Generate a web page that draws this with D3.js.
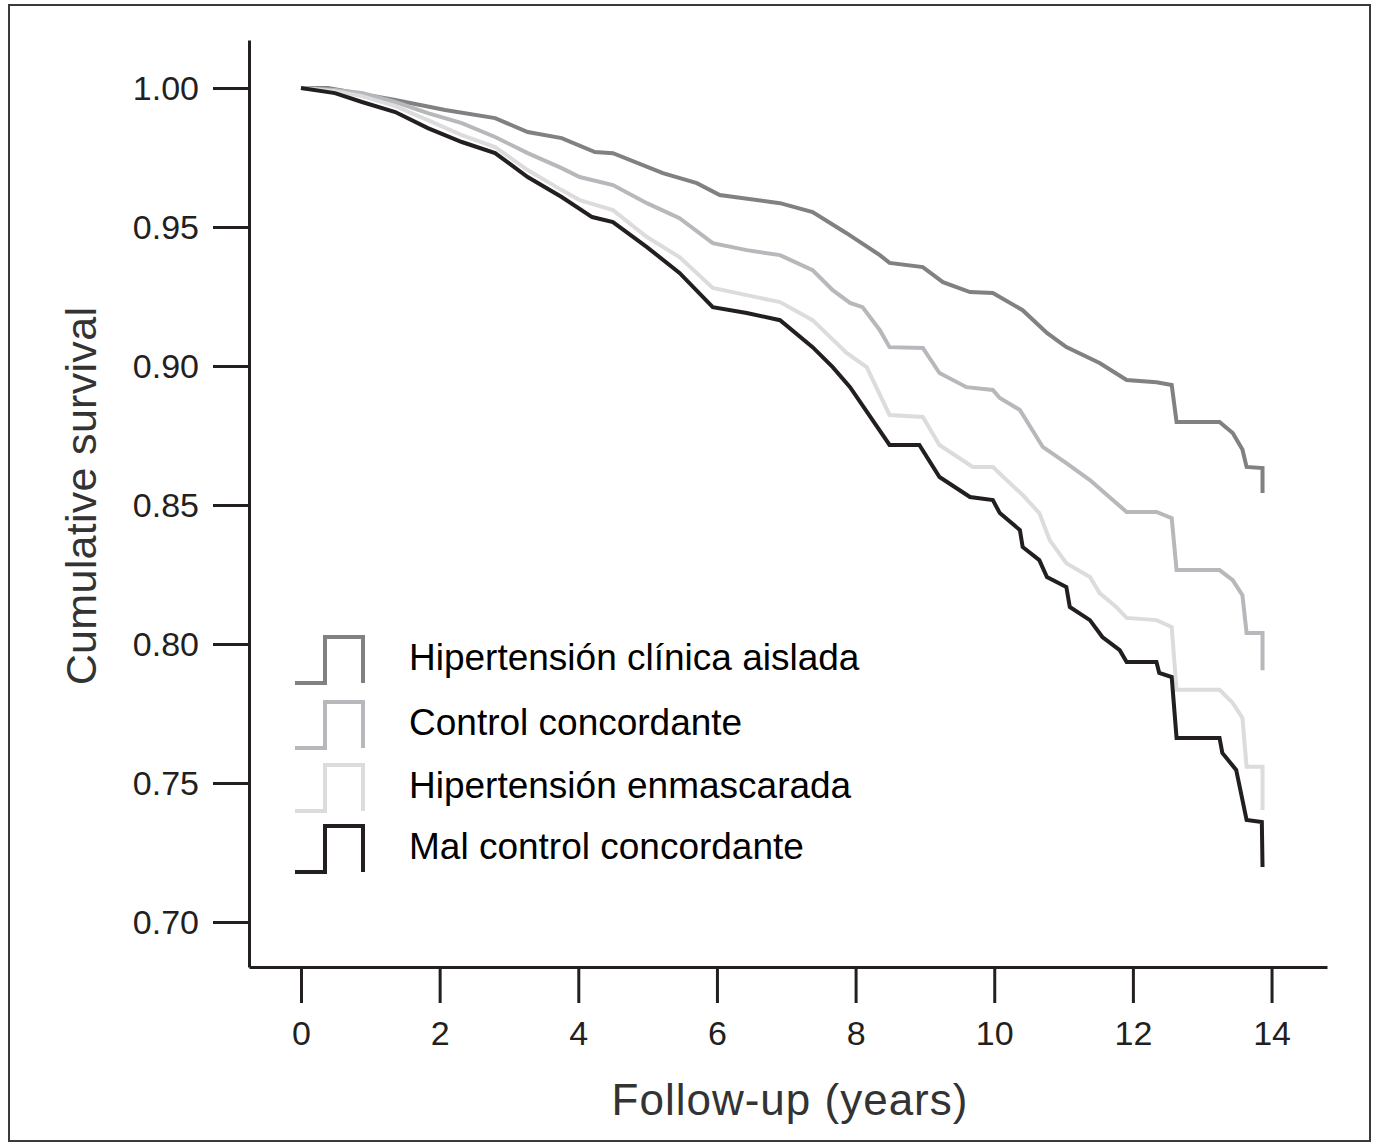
<!DOCTYPE html>
<html>
<head>
<meta charset="utf-8">
<script src="https://cdn.jsdelivr.net/npm/d3@7"></script>
<style>
  html, body { margin: 0; padding: 0; background: #ffffff; }
  svg { display: block; }
  text { font-family: "Liberation Sans", Arial, Helvetica, sans-serif; }
</style>
</head>
<body>
<svg id="chart" width="1377" height="1146"></svg>
<script>
// Kaplan–Meier survival by blood-pressure control category: [years, cumulative survival]
const seriesNames = [
  "Hipertensión clínica aislada",
  "Control concordante",
  "Hipertensión enmascarada",
  "Mal control concordante"
];

const aislada = [
  [0,1.000],[0.39,1.000],[1.36,0.9957],[2.08,0.9921],[2.80,0.9892],[3.27,0.9842],[3.76,0.9820],
  [4.24,0.9770],[4.50,0.9766],[5.22,0.9694],[5.71,0.9658],[6.04,0.9615],[6.91,0.9586],[7.38,0.9554],
  [7.87,0.9478],[8.35,0.9399],[8.49,0.9371],[8.97,0.9356],[9.26,0.9302],[9.65,0.9266],[9.98,0.9263],
  [10.41,0.9201],[10.76,0.9119],[11.04,0.9068],[11.52,0.9011],[11.91,0.8950],[12.34,0.8942],
  [12.56,0.8932],[12.63,0.8799],[13.25,0.8799],[13.44,0.8759],[13.58,0.8700],[13.64,0.8637],
  [13.87,0.8633],[13.87,0.8543]
];

const concordante = [
  [0,1.000],[0.49,0.9993],[0.88,0.9982],[1.36,0.9950],[1.83,0.9910],[2.32,0.9874],[2.80,0.9824],
  [3.27,0.9766],[3.76,0.9712],[4.02,0.9680],[4.50,0.9651],[4.99,0.9586],[5.46,0.9532],[5.94,0.9442],
  [6.43,0.9417],[6.91,0.9399],[7.38,0.9345],[7.67,0.9273],[7.92,0.9227],[8.10,0.9212],[8.35,0.9129],
  [8.49,0.9068],[8.97,0.9065],[9.21,0.8975],[9.60,0.8924],[9.98,0.8914],[10.08,0.8885],[10.37,0.8842],
  [10.70,0.8709],[11.04,0.8651],[11.38,0.8590],[11.71,0.8518],[11.91,0.8475],[12.34,0.8475],
  [12.56,0.8453],[12.63,0.8266],[13.25,0.8266],[13.44,0.8230],[13.58,0.8176],[13.64,0.8040],
  [13.87,0.8040],[13.87,0.7906]
];

const enmascarada = [
  [0,1.000],[0.49,0.9989],[0.88,0.9971],[1.36,0.9935],[1.83,0.9885],[2.32,0.9831],[2.80,0.9788],
  [3.27,0.9705],[3.76,0.9633],[4.02,0.9597],[4.50,0.9561],[4.99,0.9464],[5.46,0.9392],[5.94,0.9281],
  [6.43,0.9255],[6.91,0.9230],[7.38,0.9165],[7.87,0.9047],[8.16,0.8996],[8.49,0.8824],[8.97,0.8817],
  [9.21,0.8716],[9.69,0.8637],[9.98,0.8637],[10.41,0.8536],[10.65,0.8471],[10.80,0.8374],[11.04,0.8291],
  [11.38,0.8241],[11.52,0.8183],[11.76,0.8133],[11.91,0.8094],[12.34,0.8086],[12.56,0.8061],
  [12.63,0.7835],[13.25,0.7835],[13.44,0.7788],[13.58,0.7734],[13.64,0.7558],[13.87,0.7558],
  [13.87,0.7403]
];

const malControl = [
  [0,1.000],[0.49,0.9982],[0.88,0.9950],[1.36,0.9914],[1.83,0.9856],[2.32,0.9806],[2.80,0.9766],
  [3.27,0.9680],[3.76,0.9608],[4.20,0.9536],[4.50,0.9518],[4.99,0.9428],[5.46,0.9335],[5.94,0.9212],
  [6.43,0.9191],[6.91,0.9165],[7.38,0.9068],[7.67,0.8996],[7.92,0.8924],[8.49,0.8716],[8.92,0.8716],
  [9.21,0.8601],[9.65,0.8529],[9.98,0.8518],[10.08,0.8471],[10.37,0.8410],[10.41,0.8349],[10.65,0.8302],
  [10.76,0.8241],[11.04,0.8205],[11.09,0.8133],[11.38,0.8086],[11.56,0.8025],[11.81,0.7978],
  [11.91,0.7935],[12.34,0.7935],[12.38,0.7896],[12.56,0.7881],[12.63,0.7662],[13.25,0.7662],
  [13.29,0.7608],[13.49,0.7547],[13.64,0.7367],[13.86,0.7360],[13.87,0.7198]
];

const xTicks = [0, 2, 4, 6, 8, 10, 12, 14];
const yTicks = [0.70, 0.75, 0.80, 0.85, 0.90, 0.95, 1.00];

// Styling
const seriesData = [aislada, concordante, enmascarada, malControl];
const seriesColors = ["#808183", "#b7b8bb", "#dcdcde", "#231f20"];
const inkColor = "#231f20";

const svg = d3.select("#chart");

// Outer frame
svg.append("rect")
  .attr("x", 9).attr("y", 5).attr("width", 1361).attr("height", 1136)
  .attr("fill", "none").attr("stroke", "#3a3a3a").attr("stroke-width", 2);

const x = d3.scaleLinear().domain([-0.75, 14.8]).range([249, 1327]);
const y = d3.scaleLinear().domain([0.6838, 1.0173]).range([967, 40]);

// Axes
const yAxis = d3.axisLeft(y).tickValues(yTicks).tickFormat(d3.format(".2f"))
  .tickSizeInner(36).tickSizeOuter(0).tickPadding(14);
const xAxis = d3.axisBottom(x).tickValues(xTicks).tickFormat(d3.format("d"))
  .tickSizeInner(36).tickSizeOuter(0).tickPadding(18);

const gy = svg.append("g").attr("transform", `translate(${x.range()[0]},0)`).call(yAxis);
const gx = svg.append("g").attr("transform", `translate(0,${y.range()[0]})`).call(xAxis);

[gx, gy].forEach(g => {
  g.select(".domain").attr("stroke", inkColor).attr("stroke-width", 3);
  g.selectAll(".tick line").attr("stroke", inkColor).attr("stroke-width", 3);
  g.selectAll(".tick text")
    .attr("fill", inkColor)
    .style("font-family", "'Liberation Sans', Arial, sans-serif")
    .style("font-size", "34px");
});
gy.selectAll(".tick text").attr("dy", "0.35em");
gx.selectAll(".tick text").attr("dy", "0.71em");

// Axis titles
svg.append("text")
  .attr("x", 790).attr("y", 1115)
  .attr("text-anchor", "middle")
  .attr("fill", "#333333")
  .style("font-size", "44px")
  .style("letter-spacing", "1px")
  .text("Follow-up (years)");

svg.append("text")
  .attr("transform", "translate(96,496) rotate(-90)")
  .attr("text-anchor", "middle")
  .attr("fill", "#333333")
  .style("font-size", "43px")
  .style("letter-spacing", "0.3px")
  .text("Cumulative survival");

// Survival curves
const line = d3.line()
  .x(d => x(d[0]))
  .y(d => y(d[1]))
  .curve(d3.curveLinear);

svg.append("g").selectAll("path")
  .data(seriesData)
  .join("path")
  .attr("d", line)
  .attr("fill", "none")
  .attr("stroke", (d, i) => seriesColors[i])
  .attr("stroke-width", 4)
  .attr("stroke-linejoin", "miter")
  .attr("stroke-linecap", "butt");

// Legend with step-shaped keys
const legendRowsY = [683, 748, 811, 872];
const legend = svg.append("g");
seriesNames.forEach((name, i) => {
  const by = legendRowsY[i];
  legend.append("path")
    .attr("d", `M295,${by} H325 V${by - 46} H363 V${by}`)
    .attr("fill", "none")
    .attr("stroke", seriesColors[i])
    .attr("stroke-width", 4)
    .attr("stroke-linejoin", "miter");
  legend.append("text")
    .attr("x", 409).attr("y", by - 13)
    .attr("fill", "#000000")
    .style("font-size", "37px")
    .text(name);
});
</script>
</body>
</html>
